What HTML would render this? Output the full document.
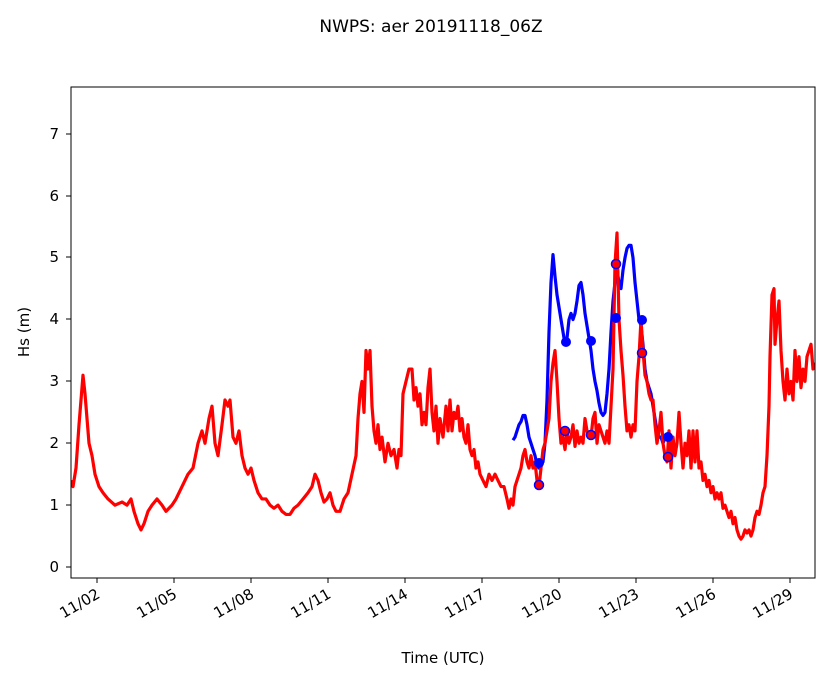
<!DOCTYPE html>
<html><head><meta charset="utf-8"><style>
html,body{margin:0;padding:0;background:#fff;}
text{font-family:"DejaVu Sans","Liberation Sans",sans-serif;fill:#000;}
</style></head><body>
<svg width="833" height="681" xmlns="http://www.w3.org/2000/svg">
<rect width="833" height="681" fill="#fff"/>
<text x="431" y="32" font-size="17" text-anchor="middle">NWPS: aer 20191118_06Z</text>
<defs><clipPath id="c"><rect x="71" y="87" width="744" height="491"/></clipPath></defs>
<g clip-path="url(#c)">
<g transform="translate(0,567) scale(1,-61.86)">
<polyline vector-effect="non-scaling-stroke" fill="none" stroke="#0000ff" stroke-width="3.2" stroke-linejoin="round" points="513,2.05 515,2.1 517,2.2 519,2.3 521,2.35 523,2.45 525,2.45 527,2.3 529,2.1 531,2.0 533,1.9 535,1.8 537,1.65 539,1.6 541,1.65 543,1.7 545,2.0 547,2.7 549,3.8 551,4.6 553,5.05 555,4.7 557,4.4 559,4.2 561,4.0 563,3.8 565,3.6 567,3.7 569,4.0 571,4.1 573,4.0 575,4.1 577,4.3 579,4.55 581,4.6 583,4.4 585,4.1 587,3.9 589,3.7 591,3.5 593,3.2 595,3.0 597,2.85 599,2.65 601,2.5 603,2.45 605,2.5 607,2.8 609,3.2 611,3.8 613,4.3 615,4.6 617,4.8 619,4.6 621,4.5 623,4.8 625,5.0 627,5.15 629,5.2 631,5.2 633,5.0 635,4.6 637,4.3 639,4.0 641,3.9 643,3.6 645,3.2 647,3.0 649,2.9 651,2.8 653,2.6 655,2.4 657,2.2 659,2.1 661,2.1 663,2.0 665,2.1 667,2.1"/>
<polyline vector-effect="non-scaling-stroke" fill="none" stroke="#ff0000" stroke-width="3.2" stroke-linejoin="round" points="71,1.4 73,1.3 76,1.6 79,2.3 81,2.7 83,3.1 85,2.8 87,2.4 89,2.0 92,1.8 95,1.5 99,1.3 103,1.2 108,1.1 115,1.0 122,1.05 127,1.0 131,1.1 134,0.9 138,0.7 141,0.6 144,0.7 148,0.9 152,1.0 157,1.1 162,1.0 166,0.9 172,1.0 176,1.1 182,1.3 188,1.5 193,1.6 198,2.0 202,2.2 205,2.0 209,2.4 212,2.6 215,2.0 218,1.8 222,2.3 225,2.7 228,2.6 230,2.7 233,2.1 236,2.0 239,2.2 242,1.8 245,1.6 248,1.5 251,1.6 254,1.4 258,1.2 262,1.1 266,1.1 270,1.0 274,0.95 278,1.0 282,0.9 286,0.85 290,0.85 294,0.95 298,1.0 303,1.1 308,1.2 312,1.3 315,1.5 318,1.4 321,1.2 324,1.05 327,1.1 330,1.2 333,1.0 336,0.9 340,0.9 344,1.1 348,1.2 352,1.5 356,1.8 358,2.4 360,2.8 362,3.0 364,2.5 366,3.5 368,3.2 370,3.5 372,2.6 374,2.2 376,2.0 378,2.3 380,1.9 382,2.1 385,1.7 388,2.0 391,1.8 394,1.9 397,1.6 399,1.9 401,1.8 403,2.8 406,3.0 409,3.2 412,3.2 414,2.7 416,2.9 418,2.6 420,2.8 422,2.3 424,2.5 426,2.3 428,2.9 430,3.2 432,2.5 434,2.2 436,2.6 438,2.0 440,2.4 443,2.1 446,2.6 448,2.2 450,2.7 452,2.2 454,2.5 456,2.4 458,2.6 460,2.2 462,2.4 464,2.1 466,2.0 468,2.3 470,1.9 472,1.8 474,1.9 476,1.6 478,1.7 480,1.5 483,1.4 486,1.3 489,1.5 492,1.4 495,1.5 498,1.4 501,1.3 504,1.3 507,1.1 509,0.95 511,1.1 513,1.0 515,1.3 517,1.4 519,1.5 521,1.6 523,1.8 525,1.9 527,1.7 529,1.6 531,1.8 533,1.6 535,1.7 537,1.4 539,1.3 541,1.6 543,1.9 545,2.0 547,2.2 549,2.4 551,3.0 553,3.3 555,3.5 557,3.0 559,2.4 561,2.0 563,2.1 565,1.9 567,2.2 569,2.0 571,2.1 573,2.3 575,1.95 577,2.2 579,2.0 581,2.1 583,2.0 585,2.4 587,2.2 589,2.1 591,2.1 593,2.4 595,2.5 597,2.0 599,2.3 601,2.2 603,2.1 605,2.0 607,2.2 609,2.0 611,2.6 613,3.2 615,4.9 617,5.4 619,4.0 621,3.5 623,3.1 625,2.6 627,2.2 629,2.3 631,2.1 633,2.3 635,2.2 637,3.0 639,3.4 641,4.0 643,3.5 645,3.1 647,3.0 649,2.8 651,2.7 653,2.7 655,2.3 657,2.0 659,2.2 661,2.5 663,2.0 665,1.8 667,1.7 669,2.2 671,1.6 673,2.1 675,1.8 677,2.0 679,2.5 681,2.0 683,1.6 685,2.0 687,1.8 689,2.2 691,1.6 693,2.2 695,1.7 697,2.2 699,1.6 701,1.7 703,1.4 705,1.5 707,1.3 709,1.4 711,1.2 713,1.3 715,1.1 717,1.2 719,1.1 721,1.2 723,0.95 725,1.0 727,0.9 729,0.8 731,0.9 733,0.7 735,0.8 737,0.6 739,0.5 741,0.45 743,0.5 745,0.6 747,0.55 749,0.6 751,0.5 753,0.6 755,0.8 757,0.9 759,0.85 761,1.0 763,1.2 765,1.3 767,1.8 769,2.6 770,3.4 772,4.4 774,4.5 775,3.6 777,4.0 779,4.3 781,3.5 783,3.0 785,2.7 787,3.2 789,2.8 791,3.0 793,2.7 795,3.5 797,3.0 799,3.4 801,2.9 803,3.2 805,3.0 807,3.4 809,3.5 811,3.6 813,3.2 815,3.3"/>
</g>
<g stroke-width="1.5">
<circle cx="539" cy="463" r="5" fill="#0000ff"/>
<circle cx="566" cy="342" r="5" fill="#0000ff"/>
<circle cx="591" cy="341" r="5" fill="#0000ff"/>
<circle cx="616" cy="318" r="5" fill="#0000ff"/>
<circle cx="642" cy="320" r="5" fill="#0000ff"/>
<circle cx="668" cy="437" r="5" fill="#0000ff"/>
<circle cx="539" cy="485" r="4.5" fill="#ff0000" stroke="#0000ff"/>
<circle cx="565" cy="431" r="4.5" fill="#ff0000" stroke="#0000ff"/>
<circle cx="591" cy="435" r="4.5" fill="#ff0000" stroke="#0000ff"/>
<circle cx="616" cy="264" r="4.5" fill="#ff0000" stroke="#0000ff"/>
<circle cx="642" cy="353" r="4.5" fill="#ff0000" stroke="#0000ff"/>
<circle cx="668" cy="457" r="4.5" fill="#ff0000" stroke="#0000ff"/>
</g>
</g>
<rect x="71" y="87" width="744" height="491" fill="none" stroke="#000" stroke-width="1"/>
<g stroke="#000" stroke-width="1">
<line x1="66" x2="71" y1="567" y2="567"/><line x1="66" x2="71" y1="505" y2="505"/><line x1="66" x2="71" y1="443" y2="443"/><line x1="66" x2="71" y1="381" y2="381"/><line x1="66" x2="71" y1="319" y2="319"/><line x1="66" x2="71" y1="257" y2="257"/><line x1="66" x2="71" y1="196" y2="196"/><line x1="66" x2="71" y1="134" y2="134"/>
<line x1="97" x2="97" y1="578" y2="583"/><line x1="174" x2="174" y1="578" y2="583"/><line x1="251" x2="251" y1="578" y2="583"/><line x1="328" x2="328" y1="578" y2="583"/><line x1="405" x2="405" y1="578" y2="583"/><line x1="482" x2="482" y1="578" y2="583"/><line x1="559" x2="559" y1="578" y2="583"/><line x1="636" x2="636" y1="578" y2="583"/><line x1="713" x2="713" y1="578" y2="583"/><line x1="790" x2="790" y1="578" y2="583"/>
</g>
<g font-size="15" text-anchor="end">
<text x="59" y="572">0</text><text x="59" y="510">1</text><text x="59" y="448">2</text><text x="59" y="386">3</text><text x="59" y="324">4</text><text x="59" y="262">5</text><text x="59" y="201">6</text><text x="59" y="139">7</text>
</g>
<g font-size="15" text-anchor="end">
<text transform="translate(101,597) rotate(-30)">11/02</text>
<text transform="translate(178,597) rotate(-30)">11/05</text>
<text transform="translate(255,597) rotate(-30)">11/08</text>
<text transform="translate(332,597) rotate(-30)">11/11</text>
<text transform="translate(409,597) rotate(-30)">11/14</text>
<text transform="translate(486,597) rotate(-30)">11/17</text>
<text transform="translate(563,597) rotate(-30)">11/20</text>
<text transform="translate(640,597) rotate(-30)">11/23</text>
<text transform="translate(717,597) rotate(-30)">11/26</text>
<text transform="translate(794,597) rotate(-30)">11/29</text>
</g>
<text x="443" y="663" font-size="15" text-anchor="middle">Time (UTC)</text>
<text transform="translate(29,332) rotate(-90)" font-size="15" text-anchor="middle">Hs (m)</text>
</svg>
</body></html>
